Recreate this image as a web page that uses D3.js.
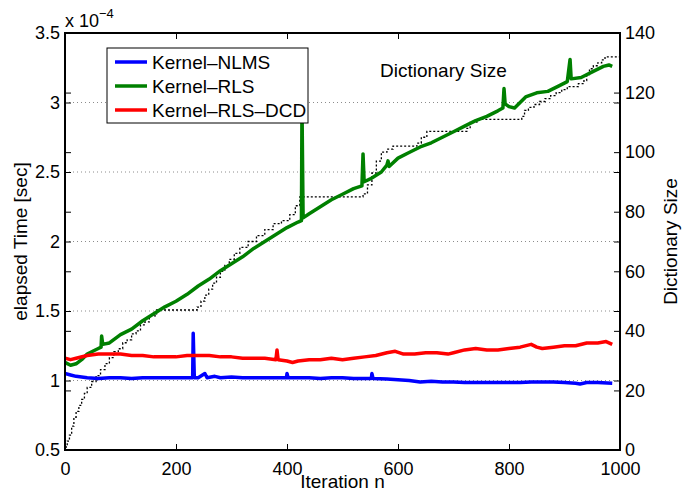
<!DOCTYPE html>
<html>
<head>
<meta charset="utf-8">
<script src="https://cdn.jsdelivr.net/npm/d3@7"></script>
<style>
  body { margin: 0; background: #fff; }
  svg text { font-family: "Liberation Sans", Arial, sans-serif; fill: #000; }
</style>
</head>
<body>
<div id="chart"></div>
<script>
// values, time in units of 1e-4 sec
var nlmsTime = [[0,1.05],[10,1.04],[20,1.03],[40,1.02],[60,1.015],[80,1.02],[100,1.02],[120,1.015],[140,1.02],[160,1.02],[180,1.02],[200,1.02],[220,1.02],[230,1.02],[231,1.34],[233,1.02],[240,1.02],[252,1.05],[256,1.02],[270,1.03],[280,1.02],[300,1.025],[320,1.02],[340,1.02],[360,1.02],[380,1.02],[399,1.02],[400,1.05],[402,1.02],[420,1.02],[440,1.02],[460,1.015],[480,1.02],[500,1.02],[520,1.015],[540,1.015],[552,1.015],[553,1.05],[555,1.015],[580,1.01],[600,1.005],[620,1.0],[640,0.99],[660,0.995],[680,0.99],[700,0.99],[720,0.985],[740,0.985],[760,0.985],[780,0.985],[800,0.985],[820,0.985],[840,0.99],[860,0.99],[880,0.99],[900,0.985],[920,0.98],[928,0.975],[940,0.985],[960,0.985],[986,0.98]];

var rlsTime = [[0,1.13],[10,1.11],[20,1.12],[30,1.15],[40,1.19],[50,1.21],[60,1.23],[65,1.24],[66,1.32],[68,1.26],[80,1.27],[100,1.33],[120,1.37],[140,1.43],[160,1.48],[180,1.53],[200,1.57],[220,1.62],[240,1.68],[260,1.73],[280,1.79],[300,1.84],[320,1.89],[340,1.95],[360,2.0],[380,2.05],[400,2.1],[420,2.14],[426,2.15],[427,2.98],[429,2.17],[440,2.2],[460,2.25],[480,2.3],[500,2.34],[520,2.38],[535,2.4],[537,2.63],[539,2.43],[550,2.45],[570,2.5],[580,2.55],[582,2.58],[584,2.54],[600,2.6],[620,2.64],[640,2.68],[660,2.71],[680,2.75],[700,2.79],[720,2.83],[740,2.87],[760,2.9],[780,2.94],[789,2.96],[791,3.1],[793,2.99],[800,2.97],[810,2.96],[830,3.04],[850,3.07],[870,3.08],[890,3.12],[905,3.15],[910,3.31],[912,3.17],[930,3.18],[950,3.22],[970,3.26],[980,3.27],[986,3.26]];

var dcdTime = [[0,1.16],[10,1.15],[20,1.16],[40,1.18],[60,1.19],[80,1.19],[100,1.19],[120,1.18],[140,1.18],[160,1.17],[180,1.17],[200,1.17],[220,1.18],[240,1.18],[260,1.18],[280,1.17],[300,1.17],[320,1.16],[340,1.16],[360,1.16],[380,1.15],[382,1.22],[384,1.15],[400,1.14],[410,1.13],[420,1.14],[440,1.15],[460,1.15],[480,1.16],[500,1.15],[520,1.16],[540,1.17],[560,1.18],[580,1.2],[595,1.21],[610,1.19],[630,1.19],[650,1.2],[670,1.2],[690,1.19],[700,1.2],[720,1.22],[740,1.23],[760,1.22],[780,1.22],[800,1.23],[820,1.24],[840,1.26],[850,1.24],[860,1.23],[880,1.24],[900,1.25],[920,1.25],[940,1.27],[960,1.27],[975,1.28],[986,1.26]];

var dictSize = [[0,1],[4,3],[8,5],[12,8],[16,11],[20,13],[25,15],[30,17],[35,19],[40,21],[48,23],[56,25],[64,27],[72,29],[80,31],[88,33],[96,34],[104,36],[112,37],[120,39],[128,40],[136,42],[144,43],[152,45],[165,47],[238,48],[245,50],[252,52],[259,54],[266,56],[273,58],[280,60],[288,62],[296,64],[305,66],[315,68],[330,70],[345,72],[360,74],[375,76],[390,77],[405,79],[415,82],[423,85],[537,86],[545,89],[553,93],[561,97],[570,100],[580,101],[591,102],[634,103],[642,105],[652,107],[724,108],[730,110],[742,111],[823,112],[828,114],[835,115],[845,116],[855,117],[865,118],[875,119],[885,120],[895,121],[905,122],[925,123],[935,124],[940,126],[945,128],[952,129],[960,130],[967,131],[973,132],[1000,132]];

var seriesNames = ["Kernel\u2013NLMS", "Kernel\u2013RLS", "Kernel\u2013RLS\u2013DCD"];
var seriesColors = ["#0000ff", "#008000", "#ff0000"];
var xTicks = [0, 200, 400, 600, 800, 1000];
var leftTicks = [0.5, 1, 1.5, 2, 2.5, 3, 3.5];
var rightTicks = [0, 20, 40, 60, 80, 100, 120, 140];

var width = 697, height = 495;
var margin = {top: 33, right: 77, bottom: 45, left: 65};
var w = width - margin.left - margin.right;
var h = height - margin.top - margin.bottom;

var x = d3.scaleLinear().domain([0, 1000]).range([0, w]);
var yL = d3.scaleLinear().domain([0.5, 3.5]).range([h, 0]);
var yR = d3.scaleLinear().domain([0, 140]).range([h, 0]);

var svg = d3.select("#chart").append("svg")
    .attr("width", width)
    .attr("height", height);

svg.append("defs").append("clipPath").attr("id", "clip")
  .append("rect").attr("width", w).attr("height", h);

var g = svg.append("g")
    .attr("transform", "translate(" + margin.left + "," + margin.top + ")");

// dotted grid on left ticks
g.selectAll(".grid")
  .data(leftTicks.slice(1, -1))
  .enter().append("line")
    .attr("x1", 0).attr("x2", w)
    .attr("y1", function(d) { return yL(d); })
    .attr("y2", function(d) { return yL(d); })
    .attr("stroke", "#8c8c8c")
    .attr("stroke-width", 1)
    .attr("stroke-dasharray", "1,3");

var plot = g.append("g").attr("clip-path", "url(#clip)");

// dictionary size, dotted staircase
plot.append("path")
  .datum(dictSize)
  .attr("fill", "none")
  .attr("stroke", "#000")
  .attr("stroke-width", 1.3)
  .attr("stroke-dasharray", "2,2")
  .attr("d", d3.line()
    .curve(d3.curveStepAfter)
    .x(function(d) { return x(d[0]); })
    .y(function(d) { return yR(d[1]); }));

var lineL = d3.line()
  .x(function(d) { return x(d[0]); })
  .y(function(d) { return yL(d[1]); });

[nlmsTime, rlsTime, dcdTime].forEach(function(s, i) {
  plot.append("path")
    .datum(s)
    .attr("fill", "none")
    .attr("stroke", seriesColors[i])
    .attr("stroke-width", 3.5)
    .attr("stroke-linejoin", "round")
    .attr("d", lineL);
});

// axes: ticks inward on both sides
var tick = 6;
g.append("g")
  .attr("transform", "translate(0," + h + ")")
  .call(d3.axisBottom(x).tickValues(xTicks).tickSizeInner(-tick).tickSizeOuter(0).tickPadding(12)
    .tickFormat(d3.format("d")));
g.append("g")
  .call(d3.axisTop(x).tickValues(xTicks).tickSizeInner(-tick).tickSizeOuter(0).tickFormat(""));
g.append("g")
  .call(d3.axisLeft(yL).tickValues(leftTicks).tickSizeInner(-tick).tickSizeOuter(0).tickPadding(5)
    .tickFormat(d3.format("~g")));
g.append("g")
  .attr("transform", "translate(" + w + ",0)")
  .call(d3.axisRight(yL).tickValues(leftTicks).tickSizeInner(-tick).tickSizeOuter(0).tickFormat(""));
g.append("g")
  .attr("transform", "translate(" + w + ",0)")
  .call(d3.axisRight(yR).tickValues(rightTicks).tickSizeInner(-tick).tickSizeOuter(0).tickPadding(5));
g.append("g")
  .call(d3.axisLeft(yR).tickValues(rightTicks).tickSizeInner(-tick).tickSizeOuter(0).tickFormat(""));

g.selectAll(".domain").remove();
g.selectAll(".tick line").attr("stroke", "#000").attr("stroke-width", 1);
g.selectAll(".tick text").attr("font-size", 18).attr("font-family", "Liberation Sans, Arial, sans-serif").attr("fill", "#000");

g.append("rect")
  .attr("width", w).attr("height", h)
  .attr("fill", "none").attr("stroke", "#000").attr("stroke-width", 2);

// exponent label
var ex = svg.append("text").attr("x", 65).attr("y", 27).attr("font-size", 18);
ex.append("tspan").text("x 10");
ex.append("tspan").attr("dy", -9).attr("font-size", 13).text("\u22124");

// axis titles
svg.append("text")
  .attr("transform", "translate(" + (margin.left + w / 2) + ",488)")
  .attr("text-anchor", "middle").attr("font-size", 19)
  .text("Iteration n");
svg.append("text")
  .attr("transform", "translate(27," + (margin.top + h / 2) + ") rotate(-90)")
  .attr("text-anchor", "middle").attr("font-size", 19)
  .text("elapsed Time [sec]");
svg.append("text")
  .attr("transform", "translate(677," + (margin.top + h / 2) + ") rotate(-90)")
  .attr("text-anchor", "middle").attr("font-size", 19)
  .text("Dictionary Size");

svg.append("text")
  .attr("x", 380).attr("y", 77).attr("font-size", 19)
  .text("Dictionary Size");

// legend
var leg = svg.append("g").attr("transform", "translate(107,48)");
leg.append("rect")
  .attr("width", 201).attr("height", 75)
  .attr("fill", "#fff").attr("stroke", "#000").attr("stroke-width", 1);
seriesNames.forEach(function(name, i) {
  var yy = 14 + i * 24;
  leg.append("line")
    .attr("x1", 8).attr("x2", 40).attr("y1", yy).attr("y2", yy)
    .attr("stroke", seriesColors[i]).attr("stroke-width", 3.5);
  leg.append("text")
    .attr("x", 45).attr("y", yy + 6.5).attr("font-size", 19)
    .text(name);
});
</script>
</body>
</html>
